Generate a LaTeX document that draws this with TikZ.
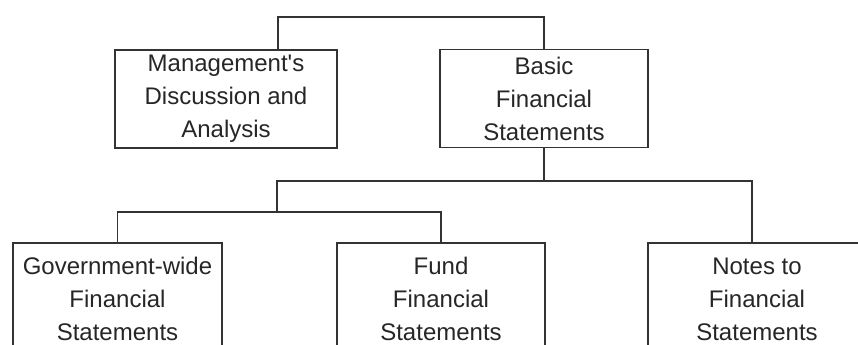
\documentclass[tikz,border=0pt]{standalone}
\usepackage{fontspec}
\setmainfont{Liberation Sans}
\usepackage{tikz}
\usetikzlibrary{shapes.geometric, arrows}
\tikzstyle{part} = [rectangle, minimum width=104pt, minimum height=49pt, inner sep=0pt, align=center, text=black!85, draw=black!80, thick, font=\fontsize{12}{16.5}\selectfont]
\tikzstyle{link} = [thick, draw=black!80]
\tikzstyle{leaf} = [part, minimum height=56pt]

\begin{document}
\begin{tikzpicture}[x=0.5pt, y=-0.5pt]
        \useasboundingbox (0,0) rectangle (858,344);
        \clip (0,0) rectangle (858,344);
        \node (mda) [part, minimum width=111pt] at (226,99) {Management\textquotesingle s\\Discussion and\\Analysis};
        \node (basic) [part] at (544,98.5) {Basic\\Financial\\Statements};
        \node (govwide) [leaf, minimum width=104.5pt] at (117.5,299) {Government-wide\\Financial\\Statements};
        \node (fund) [leaf] at (441,299) {Fund\\Financial\\Statements};
        \node (notes) [leaf, minimum width=109pt] at (757,299) {Notes to\\Financial\\Statements};

        \coordinate (topbar) at (400,17);
        \coordinate (split) at (544,181);
        \coordinate (fundjoin) at (277,212);

        \draw [link] ([xshift=26pt]mda.north) |- (topbar) -| (basic.north);
        \draw [link] (basic.south) -- (split);
        \draw [link] (split) -| ([xshift=-2.5pt]notes.north);
        \draw [link] (split) -| (fundjoin);
        \draw [link] (fundjoin) -| (govwide.north);
        \draw [link] (fundjoin) -| (fund.north);

    \end{tikzpicture}
\end{document}
